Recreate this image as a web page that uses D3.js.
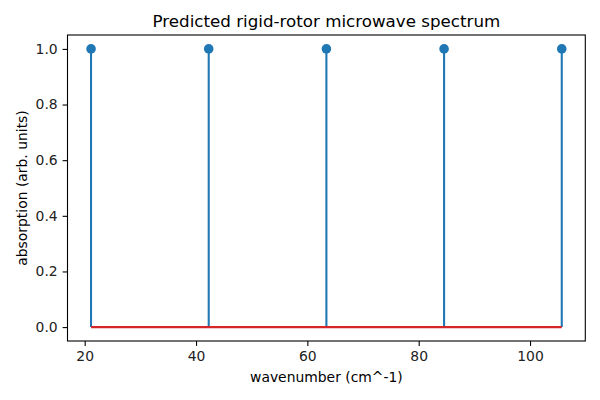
<!DOCTYPE html>
<html>
<head>
<meta charset="utf-8">
<script src="https://cdn.jsdelivr.net/npm/d3@7"></script>
<style>
  body { margin: 0; background: #fff; }
  svg { font-family: "DejaVu Sans", sans-serif; }
</style>
</head>
<body>
<svg id="chart" width="600" height="400"></svg>
<script>
// Line positions (cm^-1) and relative absorption
const wavenumbers = [21.14, 42.28, 63.42, 84.56, 105.70];
const absorption = [1, 1, 1, 1, 1];
const xTicks = [20, 40, 60, 80, 100];
const yTicks = [0, 0.2, 0.4, 0.6, 0.8, 1.0];

const margin = { left: 67.5, right: 14.7, top: 35, bottom: 59 };
const width = 600, height = 400;

const svg = d3.select("#chart");

// matplotlib-style 5% margins
const xMin = d3.min(wavenumbers), xMax = d3.max(wavenumbers);
const xPad = (xMax - xMin) * 0.05;
const x = d3.scaleLinear()
    .domain([xMin - xPad, xMax + xPad])
    .range([margin.left, width - margin.right]);

const y = d3.scaleLinear()
    .domain([-0.05, 1.05])
    .range([height - margin.bottom, margin.top]);

const blue = "#1f77b4";
const red = "#d62728";

// stems
svg.append("g").selectAll("line")
    .data(wavenumbers)
    .join("line")
    .attr("x1", d => x(d))
    .attr("x2", d => x(d))
    .attr("y1", y(0))
    .attr("y2", (d, i) => y(absorption[i]))
    .attr("stroke", blue)
    .attr("stroke-width", 2.08);

// baseline
svg.append("line")
    .attr("x1", x(xMin))
    .attr("x2", x(xMax))
    .attr("y1", y(0))
    .attr("y2", y(0))
    .attr("stroke", red)
    .attr("stroke-width", 2.08);

// markers
svg.append("g").selectAll("circle")
    .data(wavenumbers)
    .join("circle")
    .attr("cx", d => x(d))
    .attr("cy", (d, i) => y(absorption[i]))
    .attr("r", 4.8)
    .attr("fill", blue);

// axes
const xAxis = d3.axisBottom(x).tickValues(xTicks).tickFormat(d3.format("d"))
    .tickSizeOuter(0).tickSize(4.9).tickPadding(4.9);
const yAxis = d3.axisLeft(y).tickValues(yTicks).tickFormat(d3.format(".1f"))
    .tickSizeOuter(0).tickSize(4.9).tickPadding(4.9);

const gx = svg.append("g")
    .attr("transform", `translate(0,${height - margin.bottom})`)
    .call(xAxis);
const gy = svg.append("g")
    .attr("transform", `translate(${margin.left},0)`)
    .call(yAxis);

[gx, gy].forEach(g => {
    g.select(".domain").remove();
    g.selectAll(".tick line").attr("stroke", "#000").attr("stroke-width", 1.1);
    g.selectAll(".tick text").attr("fill", "#222").style("font-size", "13.9px")
        .style("font-family", "DejaVu Sans");
});

// frame
svg.append("rect")
    .attr("x", margin.left)
    .attr("y", margin.top)
    .attr("width", width - margin.left - margin.right)
    .attr("height", height - margin.top - margin.bottom)
    .attr("fill", "none")
    .attr("stroke", "#000")
    .attr("stroke-width", 1.1);

// labels
svg.append("text")
    .attr("x", (margin.left + width - margin.right) / 2)
    .attr("y", 27)
    .attr("text-anchor", "middle")
    .style("font-size", "16.7px")
    .text("Predicted rigid-rotor microwave spectrum");

svg.append("text")
    .attr("x", (margin.left + width - margin.right) / 2)
    .attr("y", 382)
    .attr("text-anchor", "middle")
    .style("font-size", "13.9px")
    .text("wavenumber (cm^-1)");

svg.append("text")
    .attr("transform", `translate(27,${(margin.top + height - margin.bottom) / 2}) rotate(-90)`)
    .attr("text-anchor", "middle")
    .style("font-size", "13.9px")
    .text("absorption (arb. units)");
</script>
</body>
</html>
